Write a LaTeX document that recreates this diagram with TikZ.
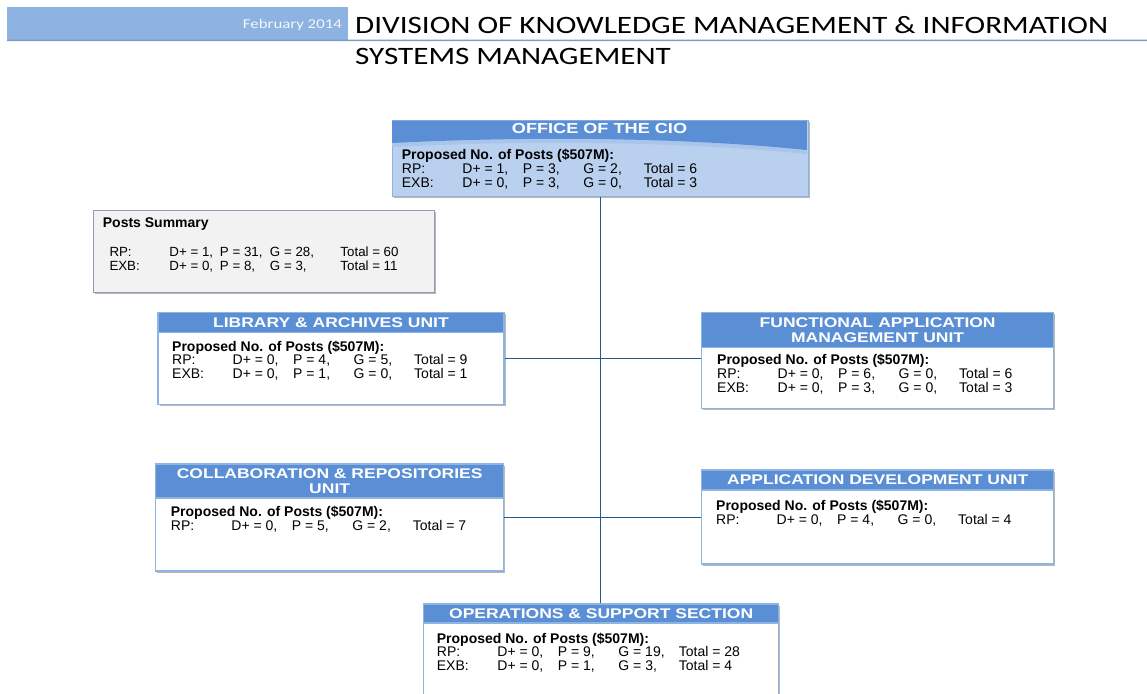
\documentclass[tikz,border=0pt]{standalone}
\usepackage{fontspec}
\usepackage{xcolor}
\usepackage{tikz}
\usetikzlibrary{shapes,arrows,shadows}

\setmainfont{Liberation Sans}
\newfontfamily\hdfont[FakeStretch=1.245]{Carlito}
\newfontfamily\unitfont[FakeStretch=1.25]{Liberation Sans}
\newfontfamily\bodyfont{Liberation Sans}

\definecolor{hdrblue}{HTML}{5B8FD5}
\definecolor{edgeblue}{HTML}{8EB4E3}
\definecolor{barblue}{HTML}{8DB3E2}
\definecolor{ruleblue}{HTML}{7F9DC4}
\definecolor{cioblue}{HTML}{B9D0EE}
\definecolor{cioband}{HTML}{A9C5EC}
\definecolor{linkblue}{HTML}{1F5A8A}
\definecolor{sumgray}{HTML}{F2F2F2}
\definecolor{sumedge}{HTML}{8C9DB5}

% one row of post numbers: label, D+, P, G, total
\newcommand{\prow}[5]{\makebox[60.5pt][l]{#1}\makebox[60.5pt][l]{#2}\makebox[60.5pt][l]{#3}\makebox[60.5pt][l]{#4}#5}
\newcommand{\srow}[5]{\makebox[60pt][l]{#1}\makebox[50.5pt][l]{#2}\makebox[50pt][l]{#3}\makebox[70.5pt][l]{#4}#5}

\begin{document}
\begin{tikzpicture}[x=1pt,y=-1pt]
				\tikzstyle{common} = [line width=1.3pt, anchor=north west, inner sep=0, drop shadow={shadow xshift=1.8pt, shadow yshift=-1.8pt, fill=black!40, opacity=0.7}]
				\tikzstyle{unit} = [rectangle, common, draw=edgeblue, fill=white]
				\tikzstyle{summary} = [rectangle, common, draw=sumedge, fill=sumgray]
				\tikzstyle{head} = [rectangle, draw=edgeblue, line width=1.3pt, fill=hdrblue, anchor=north west, inner sep=0, text=white, align=center, font=\unitfont\bfseries\fontsize{14}{15.5}\selectfont]
				\tikzstyle{body} = [anchor=base west, inner sep=0, align=left, font=\bodyfont\fontsize{14}{13.7}\selectfont]
				\tikzstyle{sumtext} = [body, font=\bodyfont\fontsize{13.3}{14}\selectfont]
				\tikzstyle{line} = [draw=linkblue, line width=0.9pt]
				\useasboundingbox (0,0) rectangle (1147,693);
				\clip (0,0) rectangle (1147,693);

				% page header
				\node[rectangle, fill=barblue, anchor=north west, minimum width=341pt, minimum height=33pt, inner sep=0] (bar) at (7,7) {};
				\draw[ruleblue, line width=1.5pt] (bar.south west) -- (1147,40.5);
				\node[anchor=base east, inner sep=0, text=white!90!barblue, font=\hdfont\fontsize{13.5}{15}\selectfont] (date) at (342,28.3) {February 2014};
				\node[anchor=base west, inner sep=0, align=left, font=\hdfont\fontsize{25}{31}\selectfont] (title) at (355,64) {DIVISION OF KNOWLEDGE MANAGEMENT \& INFORMATION\\SYSTEMS MANAGEMENT};

				% office of the cio
				\node[rectangle, common, draw=edgeblue, fill=cioblue, minimum width=416pt, minimum height=76pt] (cio) at (391.5,120) {};
				\fill[cioband] (392.2,120.7) -- (806.8,120.7) -- (806.8,154) .. controls (700,143) and (550,139) .. (392.2,147) -- cycle;
				\fill[hdrblue] (392.2,120.7) -- (806.8,120.7) -- (806.8,150) .. controls (700,139) and (550,135) .. (392.2,143) -- cycle;
				\node[text=white, font=\unitfont\bfseries\fontsize{14.5}{15.5}\selectfont] (ciohead) at (599.5,128.5) {OFFICE OF THE CIO};
				\node[body] (ciobody) at (401.7,187) {{\bfseries Proposed No. of Posts (\$507M):}\\
					\prow{RP:}{D+ = 1,}{P = 3,}{G = 2,}{Total = 6}\\
					\prow{EXB:}{D+ = 0,}{P = 3,}{G = 0,}{Total = 3}};

				% posts summary
				\node[summary, minimum width=341pt, minimum height=82pt] (sum) at (93,210) {};
				\node[body] (sumhead) at (102.7,227) {\bfseries Posts Summary};
				\node[sumtext] (sumbody) at (109.3,270) {\srow{RP:}{D+ = 1,}{P = 31,}{G = 28,}{Total = 60}\\
					\srow{EXB:}{D+ = 0,}{P = 8,}{G = 3,}{Total = 11}};

				% library & archives
				\node[unit, minimum width=346pt, minimum height=92pt] (lib) at (157.3,312) {};
				\node[head, minimum width=346pt, minimum height=20pt] (libhead) at (lib.north west) {LIBRARY \& ARCHIVES UNIT};
				\node[body] (libbody) at (172,378.5) {{\bfseries Proposed No. of Posts (\$507M):}\\
					\prow{RP:}{D+ = 0,}{P = 4,}{G = 5,}{Total = 9}\\
					\prow{EXB:}{D+ = 0,}{P = 1,}{G = 0,}{Total = 1}};

				% functional application management
				\node[unit, minimum width=352pt, minimum height=96pt] (func) at (701,312) {};
				\node[head, minimum width=352pt, minimum height=35pt] (funchead) at (func.north west) {FUNCTIONAL APPLICATION\\MANAGEMENT UNIT};
				\node[body] (funcbody) at (717,392) {{\bfseries Proposed No. of Posts (\$507M):}\\
					\prow{RP:}{D+ = 0,}{P = 6,}{G = 0,}{Total = 6}\\
					\prow{EXB:}{D+ = 0,}{P = 3,}{G = 0,}{Total = 3}};

				% collaboration & repositories
				\node[unit, minimum width=348pt, minimum height=107pt] (col) at (155,463.3) {};
				\node[head, minimum width=348pt, minimum height=34pt] (colhead) at (col.north west) {COLLABORATION \& REPOSITORIES\\UNIT};
				\node[body] (colbody) at (170.7,530.5) {{\bfseries Proposed No. of Posts (\$507M):}\\
					\prow{RP:}{D+ = 0,}{P = 5,}{G = 2,}{Total = 7}};

				% application development
				\node[unit, minimum width=352pt, minimum height=94pt] (app) at (701,469.3) {};
				\node[head, minimum width=352pt, minimum height=20pt] (apphead) at (app.north west) {APPLICATION DEVELOPMENT UNIT};
				\node[body] (appbody) at (716,524) {{\bfseries Proposed No. of Posts (\$507M):}\\
					\prow{RP:}{D+ = 0,}{P = 4,}{G = 0,}{Total = 4}};

				% operations & support
				\node[unit, minimum width=355pt, minimum height=110pt] (ops) at (423,603.3) {};
				\node[head, minimum width=355pt, minimum height=19pt] (opshead) at (ops.north west) {OPERATIONS \& SUPPORT SECTION};
				\node[body] (opsbody) at (436.7,670.5) {{\bfseries Proposed No. of Posts (\$507M):}\\
					\prow{RP:}{D+ = 0,}{P = 9,}{G = 19,}{Total = 28}\\
					\prow{EXB:}{D+ = 0,}{P = 1,}{G = 3,}{Total = 4}};

				\draw[line] (cio.south) -- (cio.south |- ops.north);
				\draw[line] (lib.east) -- (lib.east -| func.west);
				\draw[line] (col.east) -- (col.east -| app.west);
			\end{tikzpicture}
\end{document}
